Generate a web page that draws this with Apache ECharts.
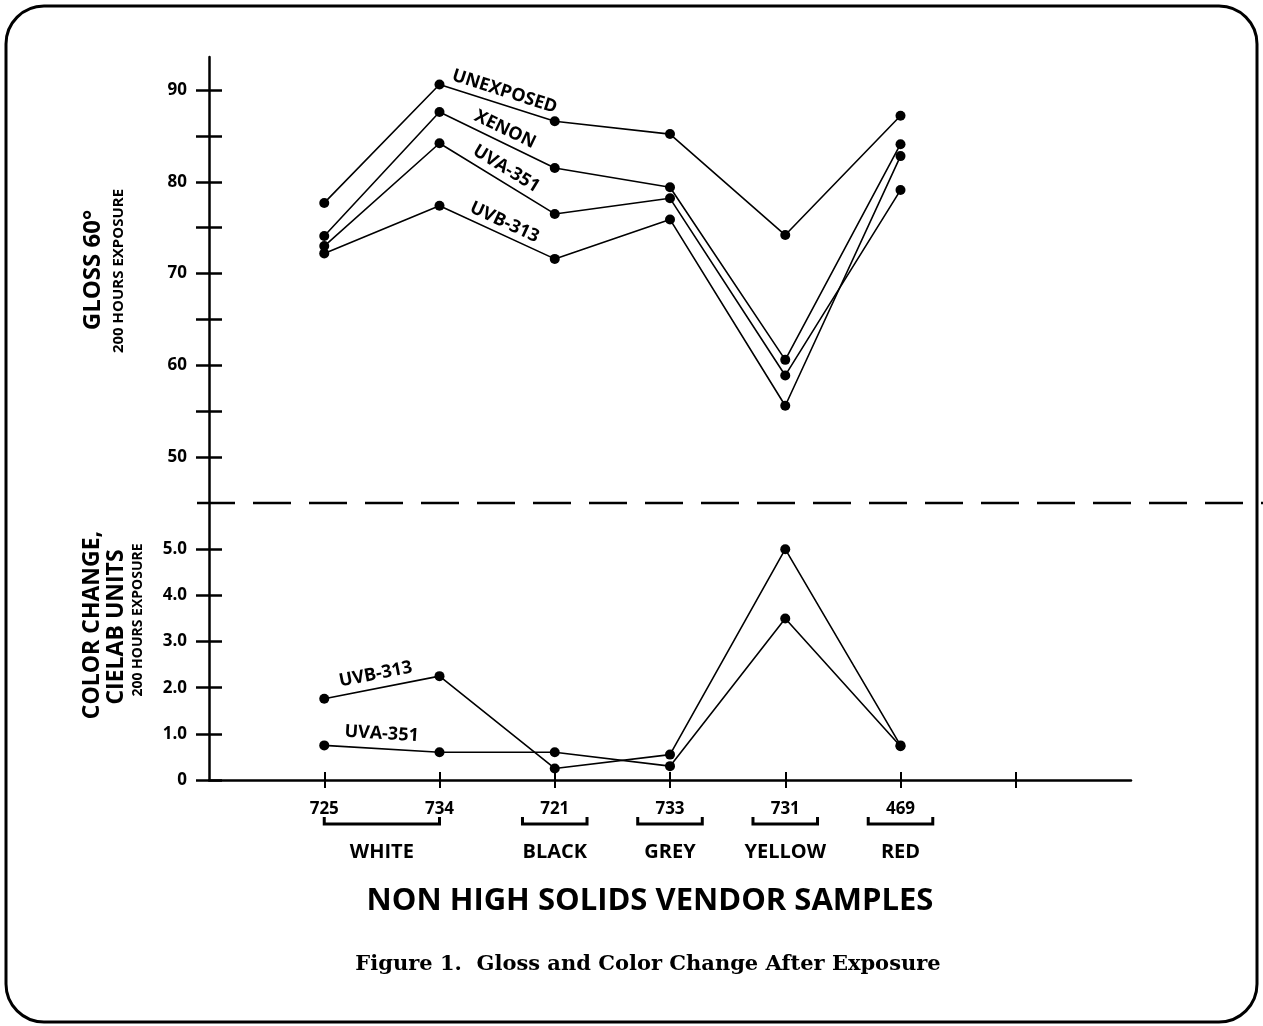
<!DOCTYPE html>
<html><head><meta charset="utf-8">
<script src="https://cdn.jsdelivr.net/npm/echarts@6/dist/echarts.min.js"></script>
<style>html,body{margin:0;padding:0;background:#fff}#c{width:1263px;height:1026px}</style>
</head><body><div id="c"></div>
<script>
// ---- data ----
const categories = ['725', '734', '721', '733', '731', '469'];
const colorGroups = ['WHITE', 'BLACK', 'GREY', 'YELLOW', 'RED'];
const groupMembers = [[0, 1], [2], [3], [4], [5]];
const glossUnexposed = [77.7, 90.6, 86.6, 85.2, 74.2, 87.2];
const glossXenon     = [74.1, 87.6, 81.5, 79.4, 60.6, 84.1];
const glossUVA351    = [73.0, 84.2, 76.5, 78.2, 58.9, 79.1];
const glossUVB313    = [72.2, 77.4, 71.6, 75.9, 55.6, 82.8];
const colorUVB313    = [1.76, 2.25, 0.25, 0.55, 5.0, 0.75];
const colorUVA351    = [0.75, 0.60, 0.60, 0.30, 3.5, 0.73];
const glossLabelTicks = [50, 60, 70, 80, 90];
const glossMinorTicks = [50, 55, 60, 65, 70, 75, 80, 85, 90];
const colorLabelTicks = [0, 1, 2, 3, 4, 5];

const FONT = 'Open Sans';
const SERIF = 'DejaVu Serif';
const xTickVals = [1, 2, 3, 4, 5, 6, 7];
const catVals = categories.map((c, i) => i + 1);
const groupCenters = groupMembers.map(m => (m[0] + m[m.length - 1]) / 2 + 1);
const toPts = arr => arr.map((v, i) => [i + 1, v]);

const chart = echarts.init(document.getElementById('c'), null, {renderer: 'canvas'});

const axisLineStyle = {color: '#000', width: 2.5};
function yAx(grid, min, max, ticks, labels, inside, fmt) {
  return {
    type: 'value', gridIndex: grid, min: min, max: max, position: 'left',
    axisLine: {show: !inside, lineStyle: axisLineStyle},
    axisTick: {show: true, inside: inside, length: 13, customValues: ticks, lineStyle: {color: '#000', width: 2.5}},
    axisLabel: inside ? {show: false} : {show: true, customValues: labels, margin: 22, color: '#000',
      fontFamily: FONT, fontWeight: 'bold', fontSize: 17, formatter: fmt},
    splitLine: {show: false}
  };
}
function seriesLine(name, data, xi, yi) {
  return {
    name: name, type: 'line', xAxisIndex: xi, yAxisIndex: yi, data: toPts(data),
    symbol: 'circle', symbolSize: 10, showSymbol: true,
    lineStyle: {color: '#000', width: 1.6}, itemStyle: {color: '#000'},
    emphasis: {disabled: true}, animation: false, z: 3
  };
}

const option = {
  backgroundColor: '#fff',
  animation: false,
  grid: [
    {left: 209, right: 132, top: 57, bottom: 523},
    {left: 209, right: 132, top: 503, bottom: 246}
  ],
  xAxis: [
    {type: 'value', gridIndex: 0, min: 0, max: 8, show: false},
    {type: 'value', gridIndex: 1, min: 0, max: 8, position: 'bottom',
      axisLine: {onZero: false, lineStyle: axisLineStyle},
      axisTick: {show: true, length: 8, customValues: xTickVals, lineStyle: {color: '#000', width: 2}},
      axisLabel: {customValues: catVals, formatter: v => categories[Math.round(v) - 1], margin: 21,
        color: '#000', fontFamily: FONT, fontWeight: 'bold', fontSize: 17},
      splitLine: {show: false}},
    {type: 'value', gridIndex: 1, min: 0, max: 8, position: 'bottom',
      axisLine: {show: false, onZero: false},
      axisTick: {show: true, inside: true, length: 8, customValues: xTickVals, lineStyle: {color: '#000', width: 2}},
      axisLabel: {show: false}, splitLine: {show: false}},
    {type: 'value', gridIndex: 1, min: 0, max: 8, position: 'bottom',
      axisLine: {show: false, onZero: false}, axisTick: {show: false},
      axisLabel: {customValues: groupCenters, formatter: v => colorGroups[groupCenters.indexOf(v)] || '',
        margin: 62, color: '#000', fontFamily: FONT, fontWeight: 'bold', fontSize: 20},
      splitLine: {show: false}}
  ],
  yAxis: [
    yAx(0, 45, 93.6, glossMinorTicks, glossLabelTicks, false, v => String(v)),
    yAx(0, 45, 93.6, glossMinorTicks, glossLabelTicks, true),
    yAx(1, 0, 6, colorLabelTicks, colorLabelTicks, false, v => v === 0 ? '0' : v.toFixed(1)),
    yAx(1, 0, 6, colorLabelTicks, colorLabelTicks, true)
  ],
  series: [
    seriesLine('UNEXPOSED', glossUnexposed, 0, 0),
    seriesLine('XENON', glossXenon, 0, 0),
    seriesLine('UVA-351', glossUVA351, 0, 0),
    seriesLine('UVB-313', glossUVB313, 0, 0),
    seriesLine('UVB-313 color', colorUVB313, 1, 2),
    seriesLine('UVA-351 color', colorUVA351, 1, 2)
  ]
};
chart.setOption(option);

// ---- decorations computed from the axes ----
const g = [];
const P = (grid, x, y) => chart.convertToPixel({gridIndex: grid}, [x, y]);

// outer rounded frame
g.push({type: 'rect', shape: {x: 6, y: 6, width: 1251, height: 1016, r: 38},
  style: {fill: 'none', stroke: '#000', lineWidth: 3}, z: 10});

// dashed separator at the top of the lower panel
const sep = P(1, 0, 6);
g.push({type: 'line', shape: {x1: sep[0] - 12, y1: sep[1], x2: 1263, y2: sep[1]},
  style: {stroke: '#000', lineWidth: 2.5, lineDash: [38, 18]}, z: 10});

// group brackets
const base = P(1, 0, 0)[1];
groupMembers.forEach(m => {
  let a = m[0] + 1, b = m[m.length - 1] + 1;
  if (a === b) { a -= 0.28; b += 0.28; }
  const xa = P(1, a, 0)[0], xb = P(1, b, 0)[0];
  const yb = base + 44;
  g.push({type: 'polyline', shape: {points: [[xa, yb - 7], [xa, yb], [xb, yb], [xb, yb - 7]]},
    style: {fill: 'none', stroke: '#000', lineWidth: 3}, z: 10});
});

// series labels along segments
const lineLabels = [
  {text: 'UNEXPOSED', grid: 0, data: glossUnexposed, seg: 1, t: 0.53, off: 13},
  {text: 'XENON', grid: 0, data: glossXenon, seg: 1, t: 0.52, off: 13},
  {text: 'UVA-351', grid: 0, data: glossUVA351, seg: 1, t: 0.52, off: 13},
  {text: 'UVB-313', grid: 0, data: glossUVB313, seg: 1, t: 0.52, off: 12},
  {text: 'UVB-313', grid: 1, data: colorUVB313, seg: 0, t: 0.47, off: 14},
  {text: 'UVA-351', grid: 1, data: colorUVA351, seg: 0, t: 0.49, off: 15}
];
lineLabels.forEach(L => {
  const p1 = P(L.grid, L.seg + 1, L.data[L.seg]);
  const p2 = P(L.grid, L.seg + 2, L.data[L.seg + 1]);
  const dx = p2[0] - p1[0], dy = p2[1] - p1[1];
  const len = Math.hypot(dx, dy);
  const px = p1[0] + L.t * dx + L.off * (dy / len);
  const py = p1[1] + L.t * dy - L.off * (dx / len);
  g.push({type: 'text', x: px, y: py, rotation: -Math.atan2(dy, dx),
    style: {text: L.text, fill: '#000', font: 'bold 18px "' + FONT + '"', textAlign: 'center', textVerticalAlign: 'middle'}, z: 10});
});

// axis titles
function vtext(txt, x, y, size) {
  g.push({type: 'text', x: x, y: y, rotation: Math.PI / 2,
    style: {text: txt, fill: '#000', font: 'bold ' + size + 'px "' + FONT + '"', textAlign: 'center', textVerticalAlign: 'middle'}, z: 10});
}
vtext('GLOSS 60°', 93, 270, 24);
vtext('200 HOURS EXPOSURE', 119, 271, 15);
vtext('COLOR CHANGE,', 92, 625, 23);
vtext('CIELAB UNITS', 116, 627, 23);
vtext('200 HOURS EXPOSURE', 138, 620, 14);

// bottom titles
g.push({type: 'text', x: 650, y: 901,
  style: {text: 'NON HIGH SOLIDS VENDOR SAMPLES', fill: '#000', font: 'bold 31px "' + FONT + '"', textAlign: 'center', textVerticalAlign: 'middle'}, z: 10});
g.push({type: 'text', x: 648, y: 965,
  style: {text: 'Figure 1.  Gloss and Color Change After Exposure', fill: '#000', font: 'bold 21px "' + SERIF + '"', textAlign: 'center', textVerticalAlign: 'middle'}, z: 10});

chart.setOption({graphic: g});
</script></body></html>
